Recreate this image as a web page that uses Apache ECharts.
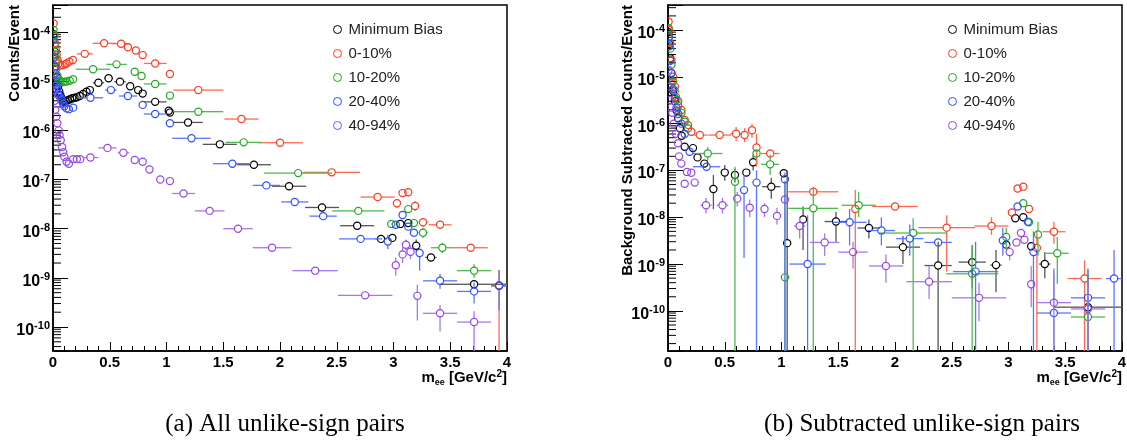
<!DOCTYPE html>
<html><head><meta charset="utf-8">
<script src="https://cdn.jsdelivr.net/npm/echarts@6/dist/echarts.min.js"></script>
<style>html,body{margin:0;padding:0;background:#fff}#c{width:1127px;height:443px}</style>
</head><body><div id="c"></div>
<script>
// ---- categories / colours ----
const categories = ['Minimum Bias', '0-10%', '10-20%', '20-40%', '40-94%'];
const colors = ['#000000', '#ff3b1f', '#22a822', '#2f4fff', '#9448e8'];
const barColors = ['#555555', '#ff6a52', '#4fbb4f', '#5a76ff', '#a878ee'];
const xTicks = [0, 0.5, 1, 1.5, 2, 2.5, 3, 3.5, 4];
const captions = ['(a) All unlike-sign pairs', '(b) Subtracted unlike-sign pairs'];
const yTitles = ['Counts/Event', 'Background Subtracted Counts/Event'];
const LO = 1e-13; // error bar reaching below the frame

// ---- data: [mass, value, halfBinWidth, yLow, yHigh] ----
const leftMB = [
 [0.005,9.0e-5],[0.015,4.0e-5],[0.025,2.0e-5],[0.035,1.2e-5],[0.045,8.0e-6],[0.055,6.2e-6],[0.065,5.2e-6],
 [0.075,4.5e-6],[0.085,4.0e-6],[0.095,3.8e-6],[0.11,3.9e-6],[0.13,4.1e-6],[0.15,4.3e-6],[0.17,4.5e-6],
 [0.19,4.6e-6],[0.21,4.7e-6],[0.235,5.0e-6],[0.265,5.5e-6],[0.295,6.1e-6],[0.325,6.6e-6],
 [0.40,9.3e-6,0.05],[0.49,1.15e-5,0.04],[0.59,9.8e-6,0.05],[0.68,7.9e-6],[0.75,6.6e-6],[0.79,5.6e-6],
 [0.90,3.8e-6,0.1],[1.02,2.5e-6],[1.03,2.3e-6],[1.19,1.45e-6,0.13],[1.47,5.2e-7,0.15],[1.77,2.0e-7,0.15],
 [2.08,7.3e-8,0.15],[2.37,2.7e-8,0.15],[2.68,1.15e-8,0.15],[2.89,6.2e-9,0.05],[2.99,6.5e-9,0.02],
 [3.06,1.25e-8,0.02],[3.13,1.3e-8,0.02],[3.20,4.5e-9,0.02,3.5e-9,6e-9],[3.33,2.6e-9,0.05],
 [3.71,7.4e-10,0.3],[3.93,6.9e-10,0.07]
];
const left0010 = [
 [0.005,1.5e-4],[0.012,8.5e-5],[0.018,5.9e-5],[0.025,4.3e-5],[0.032,3.4e-5],[0.04,2.7e-5],[0.05,2.3e-5],
 [0.065,2.1e-5],[0.085,2.1e-5],[0.105,2.2e-5],[0.12,2.3e-5],[0.145,2.5e-5],[0.175,2.7e-5],
 [0.28,3.6e-5,0.07],[0.45,5.9e-5,0.1],[0.6,5.8e-5,0.08],[0.66,4.9e-5],[0.73,4.2e-5],[0.79,3.4e-5],
 [0.90,2.3e-5,0.1],[1.03,1.4e-5],[1.28,6.6e-6,0.22],[1.66,1.7e-6,0.15],[2.0,5.6e-7,0.2],[2.455,1.4e-7,0.25],
 [2.86,4.4e-8,0.15],[3.03,3.3e-8,0.02,2.6e-8,4.0e-8],[3.08,5.3e-8,0.02],[3.13,5.5e-8,0.02],
 [3.19,2.9e-8,0.02,2.3e-8,3.6e-8],[3.26,1.35e-8,0.04,1.1e-8,1.6e-8],[3.41,1.2e-8,0.1],[3.68,4.1e-9,0.15],
 [3.93,7e-10,0.07,LO,1.45e-9]
];
const left1020 = [
 [0.005,1.1e-4],[0.01,8.7e-5],[0.015,5.5e-5],[0.02,3.5e-5],[0.025,2.5e-5],[0.03,1.8e-5],[0.038,1.3e-5],
 [0.05,1.1e-5],[0.06,1.02e-5],[0.075,9.8e-6],[0.09,9.6e-6],[0.105,9.8e-6],[0.12,9.8e-6],[0.147,1.02e-5],
 [0.177,1.1e-5],[0.353,1.75e-5,0.15],[0.56,2.2e-5,0.09],[0.72,1.56e-5],[0.78,1.28e-5],[0.90,8.8e-6,0.1],
 [1.03,5.1e-6],[1.28,2.4e-6,0.22],[1.68,5.7e-7,0.16],[2.16,1.35e-7,0.3],[2.69,2.3e-8,0.23],
 [2.98,1.25e-8,0.02],[3.13,2.5e-8,0.02],[3.18,1.3e-8,0.02],[3.26,8.3e-9,0.04,6.5e-9,1.05e-8],
 [3.43,4.1e-9,0.1,3.2e-9,5.2e-9],[3.71,1.4e-9,0.15,1.0e-9,1.9e-9]
];
const left2040 = [
 [0.005,6.9e-5],[0.009,3.1e-5],[0.015,2.0e-5],[0.02,1.45e-5],[0.025,1.0e-5],[0.03,8.3e-6],[0.037,6.8e-6],
 [0.044,5.6e-6],[0.055,5.0e-6],[0.068,4.5e-6],[0.078,4.0e-6],[0.088,3.5e-6],[0.1,3.1e-6],[0.118,2.8e-6],
 [0.14,2.7e-6],[0.177,2.9e-6],[0.33,4.6e-6,0.11],[0.51,6.6e-6,0.05],[0.66,5.0e-6,0.08],[0.79,3.3e-6],
 [0.90,2.15e-6,0.1],[1.03,1.4e-6],[1.22,6.9e-7,0.17],[1.58,2.1e-7,0.17],[1.88,7.6e-8,0.12],[2.13,3.5e-8,0.12],
 [2.38,1.8e-8,0.12],[2.71,6.2e-9,0.19],[2.95,5.5e-9,0.02,3.8e-9,7.5e-9],[3.02,1.2e-8,0.02],[3.08,1.9e-8,0.02],
 [3.13,1.1e-8,0.02],[3.18,8.3e-9,0.02],[3.23,3.2e-9,0.02,1.4e-9,4.2e-9],[3.41,8.7e-10,0.15,6e-10,1.2e-9],
 [3.71,5.3e-10,0.15,3e-10,8e-10],[3.93,6.9e-10,0.07,2.2e-10,1.45e-9]
];
const left4094 = [
 [0.005,1.45e-5],[0.009,6.6e-6],[0.015,4e-6],[0.02,2.6e-6],[0.028,1.9e-6],[0.038,1.4e-6],[0.05,1.0e-6],
 [0.058,8e-7],[0.068,6.3e-7],[0.08,4.6e-7],[0.09,3.6e-7],[0.10,2.9e-7],[0.12,2.3e-7],[0.14,2.1e-7],
 [0.177,2.6e-7],[0.21,2.6e-7],[0.24,2.6e-7],[0.33,2.8e-7,0.07],[0.48,4.4e-7,0.08],[0.62,3.5e-7,0.05],
 [0.72,2.5e-7],[0.79,2.3e-7],[0.85,1.6e-7],[0.945,1.0e-7],[1.03,9.3e-8],[1.15,5.2e-8,0.1],[1.38,2.3e-8,0.13],
 [1.63,1.0e-8,0.13],[1.93,4.1e-9,0.17],[2.31,1.4e-9,0.2],[2.75,4.4e-10,0.24],[3.02,1.8e-9,0.02,1.1e-9,2.6e-9],
 [3.08,3.0e-9,0.02,2e-9,4.2e-9],[3.11,4.7e-9,0.02,3.6e-9,6e-9],[3.15,3.4e-9,0.02,2.4e-9,4.6e-9],
 [3.21,4.3e-10,0.02,1.35e-10,7.2e-10],[3.41,1.9e-10,0.15,8.1e-11,2.8e-10],[3.71,1.26e-10,0.15,LO,2.1e-10]
];

const rightMB = [
 [0.005,9e-5],[0.01,5e-5],[0.02,2.5e-5],[0.03,1.2e-5],[0.045,5e-6],[0.06,3e-6],[0.075,1.9e-6],[0.09,1.3e-6],
 [0.105,8e-7],[0.12,5.5e-7],[0.147,3.2e-7],[0.22,3e-7],[0.26,1.9e-7],[0.32,1.4e-7],
 [0.40,4e-8,0.02,1.5e-8,8e-8],[0.50,9e-8,0.02,6e-8,1.3e-7],[0.59,8e-8,0.02,5.5e-8,1.1e-7],[0.69,9e-8,0.02],
 [0.75,1.5e-7,0.02,1e-7,2.2e-7],[0.91,4.5e-8,0.08,2.5e-8,7e-8],[1.02,8.7e-8,0.02],[1.05,2.8e-9,0.02,LO,1e-7],
 [1.19,9e-9,0.02,2e-9,1.7e-8],[1.48,8.1e-9,0.1,3e-9,1.3e-8],[1.77,5.9e-9,0.1,3.5e-9,9e-9],
 [2.07,2.3e-9,0.15,1e-9,4e-9],[2.38,9.3e-10,0.12,LO,3e-9],[2.68,1.1e-9,0.12,3e-10,2.5e-9],
 [2.89,9.5e-10,0.05,2.5e-10,2e-9],[2.98,2.6e-9,0.02],[3.06,9.5e-9,0.02],[3.13,1e-8,0.02],[3.20,2.4e-9,0.02],
 [3.32,1e-9,0.05,5e-10,1.8e-9],[3.70,1.2e-10,0.3,LO,6e-10]
];
const right0010 = [
 [0.005,1.5e-4],[0.01,1.0e-4],[0.02,5.2e-5],[0.03,2.3e-5],[0.045,1.0e-5],[0.06,6.2e-6],[0.07,3.7e-6],
 [0.09,3.0e-6],[0.118,1.95e-6],[0.147,1.2e-6],[0.176,9.4e-7],[0.206,6.7e-7],
 [0.28,5.7e-7,0.07],[0.455,5.7e-7,0.1],[0.60,6.1e-7,0.05,4.2e-7,8.5e-7],[0.675,5.7e-7,0.03,4e-7,8e-7],
 [0.74,7.2e-7,0.02,5e-7,1e-6],[0.78,3.1e-7,0.02,1.2e-7,6.1e-7],[0.90,2.3e-7,0.08],[1.28,3.5e-8,0.22],
 [1.65,1.5e-8,0.02,LO,3.8e-8],[2.0,1.7e-8,0.2],[2.455,6e-9,0.25,6.9e-10,1.1e-8],[2.85,6.5e-9,0.15,4.2e-9,1.0e-8],
 [3.03,1.26e-8,0.02],[3.08,4.1e-8,0.02],[3.13,4.5e-8,0.02],[3.18,1.5e-8,0.02],[3.25,2.2e-9,0.02,LO,5e-9],
 [3.40,4.9e-9,0.1,2.7e-9,8e-9],[3.67,4.9e-10,0.15,LO,1.2e-9]
];
const right1020 = [
 [0.005,1.1e-4],[0.01,7e-5],[0.02,4e-5],[0.03,1.8e-5],[0.045,8e-6],[0.06,5e-6],[0.075,3.2e-6],[0.09,2.4e-6],
 [0.118,1.7e-6],[0.147,1.1e-6],[0.176,7.9e-7],[0.35,2.3e-7,0.13,1.6e-7,3.2e-7],[0.59,5.7e-8,0.03,LO,1.2e-7],
 [0.78,2.3e-7,0.02],[0.90,1.35e-7,0.08,8e-8,2.2e-7],[1.03,5.2e-10,0.02,LO,6e-8],[1.28,1.55e-8,0.22,LO,4.5e-8],
 [1.68,1.8e-8,0.15,1.0e-8,3.5e-8],[2.16,4.6e-9,0.3,LO,9.5e-9],[2.68,6.2e-10,0.23,LO,2.6e-9],
 [2.98,3.8e-9,0.02,2e-9,6e-9],[3.13,2.0e-8,0.02],[3.18,7.8e-9,0.02],[3.26,4.3e-9,0.02,1.5e-9,8e-9],
 [3.43,1.7e-9,0.1,3.8e-10,3.8e-9],[3.70,7.4e-11,0.15,LO,7.4e-10]
];
const right2040 = [
 [0.005,7e-5],[0.01,4.5e-5],[0.02,2.2e-5],[0.03,1.2e-5],[0.045,5.5e-6],[0.06,3.5e-6],[0.075,2.2e-6],
 [0.09,1.6e-6],[0.118,1.0e-6],[0.147,6e-7],[0.19,2.5e-7],[0.34,1.2e-7,0.12],[0.67,3.8e-8,0.02,1.35e-9,8e-8],
 [0.78,5.5e-8,0.02,LO,1e-7],[1.03,6.5e-8,0.02,LO,9e-8],[1.23,1e-9,0.16,LO,1.1e-8],[1.6,7.8e-9,0.15,2.5e-9,1.5e-8],
 [1.88,5.2e-9,0.12,2.5e-9,1e-8],[2.13,3.5e-9,0.12,1.5e-9,7e-9],[2.38,2.9e-9,0.12],[2.71,6.9e-10,0.2,LO,3e-9],
 [2.95,3.2e-9,0.02,1.5e-9,6e-9],[3.08,1.7e-8,0.02],[3.17,8e-9,0.02],[3.22,1.8e-9,0.02,LO,5e-9],
 [3.40,9e-11,0.15,LO,8e-10],[3.70,1.9e-10,0.15,LO,8e-10],[3.93,4.9e-10,0.07,LO,2e-9]
];
const right4094 = [
 [0.005,1.4e-5],[0.015,6.2e-6],[0.02,3.2e-6],[0.03,2.2e-6],[0.038,1.7e-6],[0.05,1.0e-6],[0.068,6.1e-7],
 [0.088,3.8e-7],[0.097,2e-7],[0.117,1.4e-7],[0.147,5.2e-8],[0.167,9.3e-8],[0.205,8.9e-8],[0.235,5.5e-8],
 [0.335,1.8e-8,0.05,1.2e-8,2.6e-8],[0.48,1.8e-8,0.05,1.2e-8,2.6e-8],[0.61,2.5e-8,0.03,1.7e-8,3.5e-8],
 [0.72,1.6e-8,0.03,1e-8,2.4e-8],[0.85,1.5e-8,0.03,1e-8,2e-8],[0.96,1.07e-8,0.03,7e-9,1.6e-8],[1.03,2.4e-8,0.02],
 [1.16,6.5e-9,0.05,3.5e-9,1e-8],[1.38,2.9e-9,0.13,1.5e-9,4.5e-9],[1.63,1.8e-9,0.13,8e-10,3e-9],
 [1.92,9.1e-10,0.15,4e-10,1.6e-9],[2.30,4.2e-10,0.2,1.8e-10,9e-10],[2.74,1.9e-10,0.24,6e-11,4e-10],
 [3.01,1.8e-9,0.02,1.2e-9,2.6e-9],[3.07,2.9e-9,0.02],[3.11,4.6e-9,0.02],[3.14,3.3e-9,0.02],
 [3.20,3.7e-10,0.02,1.2e-10,9e-10],[3.40,1.5e-10,0.15,LO,6e-10],[3.70,1.1e-10,0.15,LO,4e-10]
];
const leftSets = [leftMB, left0010, left1020, left2040, left4094];
const rightSets = [rightMB, right0010, right1020, right2040, right4094];
const yRanges = [[3.25e-11, 3.55e-4], [1.39e-11, 3.42e-4]];
const minorMultipliers = [2, 3, 4, 5, 6, 7, 8, 9];

// ---- helpers ----
function norm(p) { return [p[0], p[1], p[2] || 0, p[3] == null ? p[1] : p[3], p[4] == null ? p[1] : p[4]]; }
const R = 3.6;
function pointRenderer(color, barColor) {
  return function (params, api) {
    const m = api.value(0), y = api.value(1), dx = api.value(2), ylo = api.value(3), yhi = api.value(4);
    const c = api.coord([m, y]);
    const bs = { stroke: barColor, lineWidth: 1.3 };
    const ch = [];
    if (dx > 0) {
      const l = api.coord([m - dx, y]), r = api.coord([m + dx, y]);
      if (c[0] - l[0] > R) ch.push({ type: 'line', shape: { x1: l[0], y1: c[1], x2: c[0] - R, y2: c[1] }, style: bs });
      if (r[0] - c[0] > R) ch.push({ type: 'line', shape: { x1: c[0] + R, y1: c[1], x2: r[0], y2: c[1] }, style: bs });
    }
    if (yhi > y) {
      const t = api.coord([m, yhi]);
      if (c[1] - t[1] > R) ch.push({ type: 'line', shape: { x1: c[0], y1: t[1], x2: c[0], y2: c[1] - R }, style: bs });
    }
    if (ylo < y) {
      const b = api.coord([m, ylo]);
      if (b[1] - c[1] > R) ch.push({ type: 'line', shape: { x1: c[0], y1: c[1] + R, x2: c[0], y2: b[1] }, style: bs });
    }
    ch.push({ type: 'circle', shape: { cx: c[0], cy: c[1], r: R }, style: { fill: 'none', stroke: color, lineWidth: 1.2 } });
    return { type: 'group', children: ch };
  };
}
function minorTickRenderer(params, api) {
  const p = api.coord([0, api.value(1)]);
  return { type: 'line', shape: { x1: p[0], y1: p[1], x2: p[0] + 8, y2: p[1] }, style: { stroke: '#000', lineWidth: 1 } };
}
function minorValues(range) {
  const out = [];
  for (let e = -12; e <= -3; e++) for (const k of minorMultipliers) {
    const v = k * Math.pow(10, e);
    if (v > range[0] && v < range[1]) out.push([0, v]);
  }
  return out;
}
const font = 'Liberation Sans';
function yLabel(v) {
  const lg = Math.log10(v), e = Math.round(lg);
  if (Math.abs(lg - e) > 1e-6) return '';
  return '{a|10}{b|' + e + '}';
}

const grids = [
  { left: 53, top: 5, width: 454, height: 346 },
  { left: 668, top: 5, width: 454, height: 346 }
];

const option = {
  animation: false,
  backgroundColor: '#fff',
  grid: grids.map(g => Object.assign({ show: true, borderColor: '#000', borderWidth: 1.5, backgroundColor: 'transparent', outerBoundsMode: 'none', containLabel: false }, g)),
  xAxis: [0, 1].map(i => ({
    type: 'value', gridIndex: i, min: xTicks[0], max: xTicks[xTicks.length - 1], interval: 0.5,
    axisLine: { lineStyle: { color: '#000', width: 1.5 } },
    axisTick: { inside: true, length: 9, lineStyle: { color: '#000', width: 1 } },
    minorTick: { show: true, splitNumber: 5, length: 5, lineStyle: { color: '#000', width: 1 } },
    splitLine: { show: false },
    axisLabel: { fontFamily: font, fontWeight: 'bold', fontSize: 15, color: '#000', margin: 4,
      showMinLabel: true, showMaxLabel: true }
  })),
  yAxis: [0, 1].map(i => ({
    type: 'log', gridIndex: i, logBase: 10, min: yRanges[i][0], max: yRanges[i][1], splitNumber: 8,
    axisLine: { lineStyle: { color: '#000', width: 1.5 } },
    axisTick: { inside: true, length: 15, lineStyle: { color: '#000', width: 1 } },
    splitLine: { show: false },
    axisLabel: {
      formatter: yLabel, margin: 3, padding: [7, 0, 0, 0],
      rich: {
        a: { fontFamily: font, fontWeight: 'bold', fontSize: 16, color: '#000', lineHeight: 20 },
        b: { fontFamily: font, fontWeight: 'bold', fontSize: 11, color: '#000', verticalAlign: 'top', lineHeight: 12 }
      }
    }
  })),
  legend: [337, 952].map(x => ({
    orient: 'vertical', left: x - 4, top: 22, padding: 0, itemWidth: 8, itemHeight: 8, itemGap: 9,
    icon: 'circle', selectedMode: false,
    textStyle: { fontFamily: font, fontSize: 15, color: '#222', padding: [0, 0, 0, 2] },
    data: categories.map((n, i) => ({ name: n, itemStyle: { color: 'rgba(0,0,0,0)', borderColor: colors[i], borderWidth: 1 } }))
  })),
  graphic: [
    { type: 'text', x: 15, y: 5, rotation: Math.PI / 2, style: { text: yTitles[0], font: 'bold 15px ' + font, fill: '#000', align: 'right', verticalAlign: 'middle' } },
    { type: 'text', x: 628, y: 5, rotation: Math.PI / 2, style: { text: yTitles[1], font: 'bold 15px ' + font, fill: '#000', align: 'right', verticalAlign: 'middle' } },
    ...[507, 1122].map(x => ({ type: 'text', x: x, y: 378, style: {
      text: '{m|m}{s|ee}{t| [GeV/c}{p|2}{t|]}', align: 'right', verticalAlign: 'middle',
      rich: {
        m: { font: 'bold 15px ' + font, fill: '#000', lineHeight: 18 },
        s: { font: 'bold 9px ' + font, fill: '#000', verticalAlign: 'bottom', lineHeight: 12 },
        t: { font: 'bold 15px ' + font, fill: '#000', lineHeight: 18 },
        p: { font: 'bold 10px ' + font, fill: '#000', verticalAlign: 'top', lineHeight: 12 }
      } } })),
    { type: 'text', x: 285, y: 424, style: { text: captions[0], font: '25px "Liberation Serif"', fill: '#000', align: 'center', verticalAlign: 'middle' } },
    { type: 'text', x: 922, y: 424, style: { text: captions[1], font: '25px "Liberation Serif"', fill: '#000', align: 'center', verticalAlign: 'middle' } }
  ],
  series: []
};

[leftSets, rightSets].forEach((sets, gi) => {
  option.series.push({ type: 'custom', name: 'minorTicks' + gi, xAxisIndex: gi, yAxisIndex: gi, silent: true,
    renderItem: minorTickRenderer, data: minorValues(yRanges[gi]), clip: false });
  sets.forEach((d, si) => {
    option.series.push({
      type: 'custom', name: categories[si], xAxisIndex: gi, yAxisIndex: gi, clip: true,
      itemStyle: { color: colors[si] },
      encode: { x: 0, y: 1 },
      renderItem: pointRenderer(colors[si], barColors[si]),
      data: d.map(norm)
    });
  });
});

const chart = echarts.init(document.getElementById('c'), null, { renderer: 'canvas' });
chart.setOption(option);
</script></body></html>
